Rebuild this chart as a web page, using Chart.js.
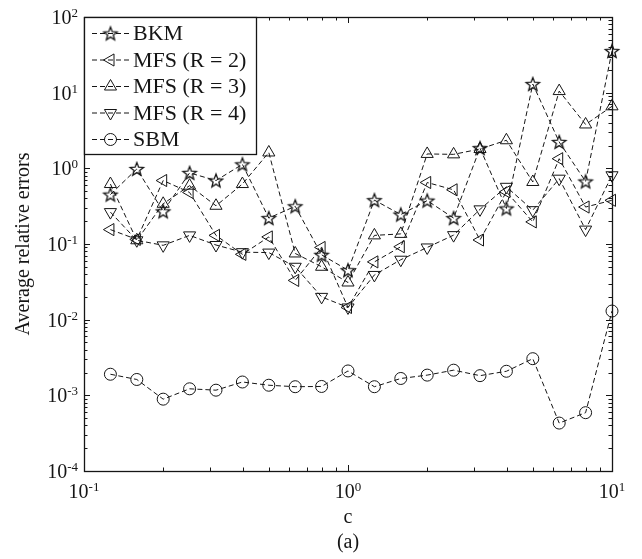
<!DOCTYPE html>
<html>
<head>
<meta charset="utf-8">
<script src="https://cdn.jsdelivr.net/npm/chart.js@4/dist/chart.umd.min.js"></script>
<style>
  html, body { margin: 0; padding: 0; background: #fff; }
  canvas { display: block; }
</style>
</head>
<body>
<canvas id="chart" width="642" height="559"></canvas>
<script>
// Shape parameter c (log-spaced, 10 points per decade)
const cValues = [0.1259, 0.1585, 0.1995, 0.2512, 0.3162, 0.3981, 0.5012, 0.6310, 0.7943, 1.0,
                 1.2589, 1.5849, 1.9953, 2.5119, 3.1623, 3.9811, 5.0119, 6.3096, 7.9433, 10.0];

// Average relative errors per method
const bkmErrors  = [0.45, 0.98, 0.27, 0.87, 0.69, 1.13, 0.22, 0.315, 0.072, 0.045,
                    0.38, 0.245, 0.375, 0.22, 1.85, 0.295, 13.0, 2.23, 0.67, 35.5];
const mfsR2Errors = [0.155, 0.115, 0.69, 0.48, 0.13, 0.073, 0.124, 0.033, 0.09, 0.0145,
                     0.058, 0.092, 0.65, 0.52, 0.113, 0.49, 0.196, 1.34, 0.308, 0.378];
const mfsR3Errors = [0.62, 0.112, 0.34, 0.59, 0.32, 0.62, 1.62, 0.075, 0.05, 0.031,
                     0.13, 0.136, 1.55, 1.53, 1.8, 2.35, 0.66, 10.5, 3.8, 6.6];
const mfsR4Errors = [0.264, 0.112, 0.096, 0.13, 0.097, 0.078, 0.077, 0.05, 0.020, 0.0145,
                     0.039, 0.062, 0.09, 0.131, 0.287, 0.57, 0.28, 0.73, 0.155, 0.81];
const sbmErrors  = [0.0019, 0.00162, 0.00089, 0.00122, 0.00117, 0.0015, 0.00136, 0.0013, 0.00131, 0.0021,
                    0.0013, 0.00167, 0.00185, 0.00215, 0.00182, 0.00208, 0.00305, 0.00043, 0.00059, 0.013];

const seriesNames = ['BKM', 'MFS (R = 2)', 'MFS (R = 3)', 'MFS (R = 4)', 'SBM'];
const xTickExponents = [-1, 0, 1];
const yTickExponents = [-4, -3, -2, -1, 0, 1, 2];
const xAxisTitle = 'c';
const yAxisTitle = 'Average relative errors';
const panelLabel = '(a)';

const INK = '#151515';
const FONT = '"Liberation Serif", "Times New Roman", serif';

// Outlined five-pointed star marker
function makeStar(size, outer, inner) {
  const cv = document.createElement('canvas');
  cv.width = size; cv.height = size;
  const g = cv.getContext('2d');
  g.strokeStyle = INK;
  g.lineWidth = 1.3;
  g.lineJoin = 'miter';
  g.beginPath();
  for (let i = 0; i < 10; i++) {
    const r = i % 2 === 0 ? outer : inner;
    const a = -Math.PI / 2 + i * Math.PI / 5;
    const px = size / 2 + r * Math.cos(a);
    const py = size / 2 + 0.6 + r * Math.sin(a);
    if (i === 0) g.moveTo(px, py); else g.lineTo(px, py);
  }
  g.closePath();
  g.stroke();
  return cv;
}
const starMarker = makeStar(18, 7, 3);

const markers = [
  { pointStyle: starMarker, rotation: 0,   radius: 7 },
  { pointStyle: 'triangle', rotation: -90, radius: 7 },
  { pointStyle: 'triangle', rotation: 0,   radius: 7 },
  { pointStyle: 'triangle', rotation: 180, radius: 7 },
  { pointStyle: 'circle',   rotation: 0,   radius: 6 }
];
const seriesValues = [bkmErrors, mfsR2Errors, mfsR3Errors, mfsR4Errors, sbmErrors];
const DASH = [5, 3];

const datasets = seriesValues.map((vals, i) => ({
  label: seriesNames[i],
  data: cValues.map((c, j) => ({ x: c, y: vals[j] })),
  borderColor: INK,
  borderWidth: 1,
  borderDash: DASH,
  fill: false,
  tension: 0,
  clip: false,
  pointStyle: markers[i].pointStyle,
  pointRotation: markers[i].rotation,
  pointRadius: markers[i].radius,
  pointBorderColor: INK,
  pointBackgroundColor: 'rgba(0,0,0,0)',
  pointBorderWidth: 1
}));

// Draws "10" with a superscript exponent; align: 'center' or 'right'
function drawPower(ctx, exp, x, baseline, align) {
  const base = '10', sup = String(exp);
  ctx.font = '20px ' + FONT;
  const wb = ctx.measureText(base).width;
  ctx.font = '13px ' + FONT;
  const ws = ctx.measureText(sup).width;
  const total = wb + ws;
  const x0 = align === 'center' ? x - total / 2 : x - total;
  ctx.textAlign = 'left';
  ctx.textBaseline = 'alphabetic';
  ctx.font = '20px ' + FONT;
  ctx.fillText(base, x0, baseline);
  ctx.font = '13px ' + FONT;
  ctx.fillText(sup, x0 + wb, baseline - 7);
}

const axesDecor = {
  id: 'axesDecor',
  afterDatasetsDraw(chart) {
    const { ctx, chartArea: a, scales: { x, y } } = chart;
    ctx.save();
    ctx.fillStyle = INK;
    ctx.strokeStyle = INK;

    // tick marks on all four sides, pointing inward
    ctx.lineWidth = 1;
    const majorLen = 6, minorLen = 3.5;
    ctx.beginPath();
    for (let e = -1; e <= 1; e++) {
      for (let m = 1; m <= 9; m++) {
        const v = m * Math.pow(10, e);
        if (v < 0.1 - 1e-12 || v > 10 + 1e-9) continue;
        const px = Math.round(x.getPixelForValue(v)) + 0.5;
        const len = m === 1 ? majorLen : minorLen;
        ctx.moveTo(px, a.bottom); ctx.lineTo(px, a.bottom - len);
        ctx.moveTo(px, a.top); ctx.lineTo(px, a.top + len);
      }
    }
    for (let e = -4; e <= 2; e++) {
      for (let m = 1; m <= 9; m++) {
        const v = m * Math.pow(10, e);
        if (v < 1e-4 - 1e-15 || v > 100 + 1e-9) continue;
        const py = Math.round(y.getPixelForValue(v)) + 0.5;
        const len = m === 1 ? majorLen : minorLen;
        ctx.moveTo(a.left, py); ctx.lineTo(a.left + len, py);
        ctx.moveTo(a.right, py); ctx.lineTo(a.right - len, py);
      }
    }
    ctx.stroke();

    // axes box
    ctx.lineWidth = 1.3;
    ctx.strokeRect(Math.round(a.left) + 0.5, Math.round(a.top) + 0.5,
                   Math.round(a.right - a.left), Math.round(a.bottom - a.top));

    // tick labels
    xTickExponents.forEach(e => {
      drawPower(ctx, e, x.getPixelForValue(Math.pow(10, e)), a.bottom + 27, 'center');
    });
    yTickExponents.forEach(e => {
      drawPower(ctx, e, a.left - 6, y.getPixelForValue(Math.pow(10, e)) + 7, 'right');
    });

    // axis titles and panel label
    const cx = (a.left + a.right) / 2;
    ctx.font = '20px ' + FONT;
    ctx.textAlign = 'center';
    ctx.textBaseline = 'alphabetic';
    ctx.fillText(xAxisTitle, cx, a.bottom + 52);
    ctx.fillText(panelLabel, cx, a.bottom + 77);
    ctx.save();
    ctx.translate(24, (a.top + a.bottom) / 2);
    ctx.rotate(-Math.PI / 2);
    ctx.textBaseline = 'middle';
    ctx.fillText(yAxisTitle, 0, 0);
    ctx.restore();

    // legend box in the upper-left corner
    const lx = a.left, ly = a.top, lw = 172, lh = 137;
    ctx.fillStyle = '#fff';
    ctx.fillRect(lx, ly, lw, lh);
    ctx.lineWidth = 1.3;
    ctx.strokeStyle = INK;
    ctx.strokeRect(Math.round(lx) + 0.5, Math.round(ly) + 0.5, lw, lh);
    ctx.font = '22px ' + FONT;
    ctx.textAlign = 'left';
    ctx.textBaseline = 'middle';
    seriesNames.forEach((name, i) => {
      const rowY = ly + 16.5 + i * 26.5;
      ctx.save();
      ctx.lineWidth = 1;
      ctx.setLineDash(DASH);
      ctx.beginPath();
      ctx.moveTo(lx + 8, rowY);
      ctx.lineTo(lx + 45, rowY);
      ctx.stroke();
      ctx.restore();
      ctx.save();
      ctx.fillStyle = 'rgba(0,0,0,0)';
      ctx.strokeStyle = INK;
      ctx.lineWidth = 1;
      Chart.helpers.drawPoint(ctx, {
        pointStyle: markers[i].pointStyle,
        rotation: markers[i].rotation,
        radius: markers[i].radius,
        borderWidth: 1
      }, lx + 26.5, rowY);
      ctx.restore();
      ctx.fillStyle = INK;
      ctx.fillText(name, lx + 49, rowY + 1);
    });
    ctx.restore();
  }
};

new Chart(document.getElementById('chart'), {
  type: 'line',
  data: { datasets },
  options: {
    responsive: false,
    animation: false,
    devicePixelRatio: 1,
    layout: { padding: { left: 84, top: 17, right: 30, bottom: 88 } },
    plugins: { legend: { display: false }, tooltip: { enabled: false } },
    scales: {
      x: { type: 'logarithmic', min: 0.1, max: 10, display: false },
      y: { type: 'logarithmic', min: 1e-4, max: 100, display: false }
    }
  },
  plugins: [axesDecor]
});
</script>
</body>
</html>
